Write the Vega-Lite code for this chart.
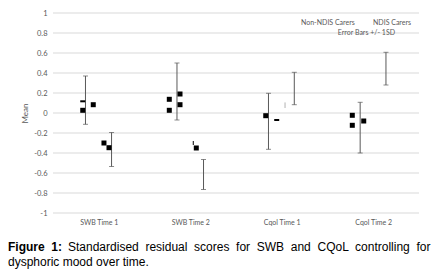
{
  "$schema": "https://vega.github.io/schema/vega-lite/v6.json",
  "width": 366,
  "height": 200,
  "autosize": {"type": "none"},
  "padding": {"left": 53, "top": 13, "right": 24, "bottom": 58},
  "background": "white",
  "config": {
    "view": {"stroke": null},
    "font": "Lato"
  },
  "title": {
    "text": "Figure \u00a01:",
    "subtitle": [
      "\u200b\u00a0\u00a0\u00a0\u00a0\u00a0\u00a0\u00a0\u00a0\u00a0\u00a0\u00a0\u00a0\u00a0\u00a0\u00a0\u00a0\u00a0\u00a0Standardised \u00a0residual \u00a0scores \u00a0for \u00a0SWB \u00a0and \u00a0CQoL \u00a0controlling \u00a0for",
      "dysphoric mood over time."
    ],
    "orient": "bottom",
    "anchor": "start",
    "frame": "group",
    "dx": -45,
    "offset": 16.5,
    "font": "Liberation Sans",
    "fontSize": 12,
    "fontWeight": "bold",
    "color": "#000000",
    "subtitleFont": "Liberation Sans",
    "subtitleFontSize": 12,
    "subtitleFontWeight": "normal",
    "subtitleColor": "#000000",
    "subtitlePadding": -12,
    "subtitleLineHeight": 15.5
  },
  "datasets": {
    "gridlines": [
      {"tick": -1}, {"tick": -0.8}, {"tick": -0.6}, {"tick": -0.4}, {"tick": -0.2}, {"tick": 0},
      {"tick": 0.2}, {"tick": 0.4}, {"tick": 0.6}, {"tick": 0.8}, {"tick": 1}
    ],
    "errbars": [
      {"cat": "SWB Time 1", "group": "Non-NDIS Carers", "pos": 0.855, "lo": -0.113, "hi": 0.37},
      {"cat": "SWB Time 1", "group": "NDIS Carers", "pos": 1.14, "lo": -0.535, "hi": -0.195},
      {"cat": "SWB Time 2", "group": "Non-NDIS Carers", "pos": 1.855, "lo": -0.07, "hi": 0.5},
      {"cat": "SWB Time 2", "group": "NDIS Carers", "pos": 2.145, "lo": -0.765, "hi": -0.465},
      {"cat": "Cqol Time 1", "group": "Non-NDIS Carers", "pos": 2.855, "lo": -0.363, "hi": 0.197},
      {"cat": "Cqol Time 1", "group": "NDIS Carers", "pos": 3.137, "lo": 0.083, "hi": 0.407},
      {"cat": "Cqol Time 2", "group": "Non-NDIS Carers", "pos": 3.857, "lo": -0.4, "hi": 0.107},
      {"cat": "Cqol Time 2", "group": "NDIS Carers", "pos": 4.139, "lo": 0.28, "hi": 0.607}
    ],
    "points": [
      {"cat": "SWB Time 1", "pos": 0.825, "lo": 0.027, "kind": "full"},
      {"cat": "SWB Time 1", "pos": 0.825, "lo": 0.117, "kind": "partial"},
      {"cat": "SWB Time 1", "pos": 0.94, "lo": 0.083, "kind": "full"},
      {"cat": "SWB Time 1", "pos": 1.057, "lo": -0.3, "kind": "full"},
      {"cat": "SWB Time 1", "pos": 1.112, "lo": -0.347, "kind": "full"},
      {"cat": "SWB Time 2", "pos": 1.771, "lo": 0.137, "kind": "full"},
      {"cat": "SWB Time 2", "pos": 1.771, "lo": 0.027, "kind": "full"},
      {"cat": "SWB Time 2", "pos": 1.888, "lo": 0.19, "kind": "full"},
      {"cat": "SWB Time 2", "pos": 1.888, "lo": 0.083, "kind": "full"},
      {"cat": "SWB Time 2", "pos": 2.066, "lo": -0.35, "kind": "full"},
      {"cat": "Cqol Time 1", "pos": 2.825, "lo": -0.027, "kind": "full"},
      {"cat": "Cqol Time 1", "pos": 2.945, "lo": -0.07, "kind": "partial"},
      {"cat": "Cqol Time 2", "pos": 3.771, "lo": -0.023, "kind": "full"},
      {"cat": "Cqol Time 2", "pos": 3.771, "lo": -0.123, "kind": "full"},
      {"cat": "Cqol Time 2", "pos": 3.896, "lo": -0.08, "kind": "full"}
    ],
    "stubs": [
      {"cat": "SWB Time 2", "pos": 2.033, "lo": -0.32, "hi": -0.28, "tone": "dark"},
      {"cat": "Cqol Time 1", "pos": 3.036, "lo": 0.05, "hi": 0.106, "tone": "light"}
    ]
  },
  "encoding": {
    "y": {
      "field": "lo",
      "type": "quantitative",
      "scale": {"domain": [-1, 1], "nice": false, "zero": false},
      "axis": {
        "values": [-1, -0.8, -0.6, -0.4, -0.2, 0, 0.2, 0.4, 0.6, 0.8, 1],
        "tickCount": 20,
        "labelExpr": "'' + datum.value",
        "title": "Mean",
        "grid": false,
        "domain": false,
        "ticks": false,
        "labelOverlap": false,
        "labelPadding": 6,
        "titlePadding": 4,
        "labelFont": "Lato",
        "labelFontSize": 7.5,
        "labelColor": "#595959",
        "titleFont": "Lato",
        "titleFontSize": 8,
        "titleFontWeight": "normal",
        "titleColor": "#595959"
      }
    }
  },
  "layer": [
    {
      "data": {"name": "gridlines"},
      "mark": {"type": "rule", "color": "#d9d9d9", "strokeWidth": 1},
      "encoding": {
        "y": {"field": "tick", "type": "quantitative", "title": null}
      }
    },
    {
      "data": {"name": "errbars"},
      "mark": {"type": "rule", "strokeWidth": 1},
      "encoding": {
        "x": {
          "field": "pos",
          "type": "quantitative",
          "title": null,
          "scale": {"domain": [0.5, 4.5], "nice": false, "zero": false},
          "axis": {
            "values": [1, 2, 3, 4],
            "labelExpr": "['', 'SWB Time 1', 'SWB Time 2', 'Cqol Time 1', 'Cqol Time 2'][datum.value]",
            "title": null,
            "domain": false,
            "ticks": false,
            "grid": false,
            "labelAngle": 0,
            "labelPadding": 5,
            "labelFont": "Lato",
            "labelFontSize": 7,
            "labelColor": "#595959"
          }
        },
        "y2": {"field": "hi"},
        "color": {
          "field": "group",
          "type": "nominal",
          "scale": {"domain": ["Non-NDIS Carers", "NDIS Carers"], "range": ["#595959", "#595959"]},
          "legend": {
            "title": "\u200b\u00a0\u00a0\u00a0\u00a0\u00a0\u00a0\u00a0\u00a0\u00a0\u00a0\u00a0\u00a0\u00a0\u00a0\u00a0Error Bars +/- 1SD",
            "orient": "none",
            "legendX": 241,
            "legendY": 6,
            "direction": "horizontal",
            "symbolSize": 0,
            "symbolOpacity": 0,
            "symbolStrokeWidth": 0,
            "labelOffset": 0,
            "columnPadding": 11,
            "labelFont": "Lato",
            "labelFontSize": 7,
            "labelColor": "#595959",
            "titleOrient": "bottom",
            "titleAnchor": "middle",
            "titleFont": "Lato",
            "titleFontSize": 7,
            "titleFontWeight": "normal",
            "titleColor": "#595959",
            "titlePadding": 3
          }
        }
      }
    },
    {
      "data": {"name": "errbars"},
      "mark": {"type": "tick", "orient": "horizontal", "size": 5, "thickness": 1},
      "encoding": {
        "x": {"field": "pos", "type": "quantitative", "title": null},
        "color": {"field": "group", "type": "nominal"}
      }
    },
    {
      "data": {"name": "errbars"},
      "mark": {"type": "tick", "orient": "horizontal", "size": 5, "thickness": 1},
      "encoding": {
        "x": {"field": "pos", "type": "quantitative", "title": null},
        "y": {"field": "hi", "type": "quantitative"},
        "color": {"field": "group", "type": "nominal"}
      }
    },
    {
      "data": {"name": "stubs"},
      "mark": {"type": "rule", "strokeWidth": 1, "color": "#000000"},
      "encoding": {
        "x": {"field": "pos", "type": "quantitative", "title": null},
        "y2": {"field": "hi"},
        "opacity": {"field": "tone", "type": "nominal", "scale": {"domain": ["dark", "light"], "range": [1, 0.3]}, "legend": null}
      }
    },
    {
      "data": {"name": "points"},
      "mark": {"type": "point", "filled": true, "color": "#000000", "opacity": 1, "size": 25},
      "encoding": {
        "x": {"field": "pos", "type": "quantitative", "title": null},
        "shape": {"field": "kind", "type": "nominal", "scale": {"domain": ["full", "partial"], "range": ["square", "M-1,-0.4H1V0.4H-1Z"]}, "legend": null}
      }
    }
  ]
}
